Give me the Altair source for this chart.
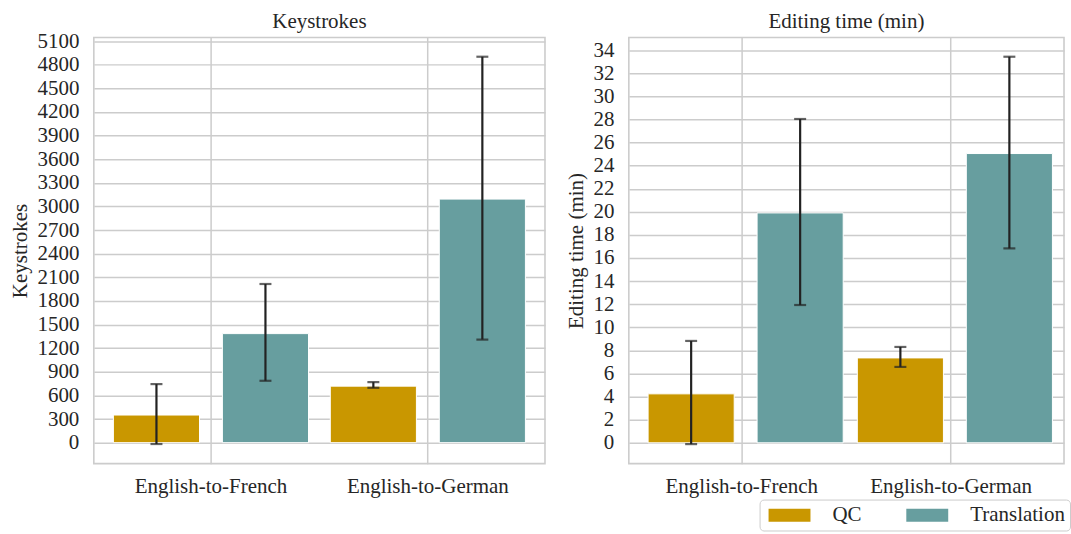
import altair as alt
import pandas as pd

# Language pairs and task types
languages = ["English-to-French", "English-to-German"]
tasks = ["QC", "Translation"]
task_colors = ["#C99700", "#679E9F"]

# Mean values with lower / upper error-bar bounds, ordered
# (French-QC, French-Translation, German-QC, German-Translation)
row_language = ["English-to-French", "English-to-French", "English-to-German", "English-to-German"]
row_task = ["QC", "Translation", "QC", "Translation"]

keystrokes_mean = [351, 1385, 718, 3093]
keystrokes_lo = [-17, 786, 697, 1309]
keystrokes_hi = [744, 2015, 769, 4901]

time_mean = [4.24, 19.9, 7.35, 25.04]
time_lo = [-0.11, 11.93, 6.57, 16.83]
time_hi = [8.82, 28.03, 8.30, 33.42]

keystroke_ticks = list(range(0, 5101, 300))
time_ticks = list(range(0, 35, 2))

FONT = "Liberation Serif"
TEXT = "#262626"
GRID = "#cccccc"


def panel(mean, lo, hi, label, domain, ticks, width, title_offset):
    df = pd.DataFrame({
        "language": row_language,
        "task": row_task,
        "mean": mean,
        "lo": lo,
        "hi": hi,
    })
    x = alt.X(
        "language:N",
        sort=languages,
        title=None,
        scale=alt.Scale(paddingInner=0, paddingOuter=0.04),
        axis=alt.Axis(labelAngle=0, grid=True, labelPadding=12),
    )
    xo = alt.XOffset("task:N", sort=tasks,
                     scale=alt.Scale(paddingInner=0.21, paddingOuter=0.1))
    yscale = alt.Scale(domain=domain, nice=False, zero=False)
    yaxis = alt.Axis(values=ticks, title=label, format="d", labelOverlap=False,
                     labelPadding=15, titlePadding=6)
    base = alt.Chart(df).encode(x=x, xOffset=xo)

    bars = base.mark_bar(stroke="white", strokeWidth=1).encode(
        y=alt.Y("mean:Q", stack=None, scale=yscale, axis=yaxis),
        color=alt.Color("task:N", sort=tasks,
                        scale=alt.Scale(domain=tasks, range=task_colors),
                        legend=alt.Legend(title=None)),
    )
    whisker = base.mark_rule(color="#222222", strokeWidth=2.2).encode(
        y=alt.Y("lo:Q", scale=yscale, axis=yaxis), y2="hi:Q"
    )
    cap_lo = base.mark_tick(color="#222222", size=12, thickness=2.2,
                            orient="horizontal").encode(
        y=alt.Y("lo:Q", scale=yscale, axis=yaxis))
    cap_hi = base.mark_tick(color="#222222", size=12, thickness=2.2,
                            orient="horizontal").encode(
        y=alt.Y("hi:Q", scale=yscale, axis=yaxis))
    return alt.layer(bars, whisker, cap_lo, cap_hi).properties(
        width=width, height=427,
        title=alt.TitleParams(label, fontSize=21, font=FONT, color=TEXT,
                              fontWeight="normal", offset=title_offset),
    )


# the top tick label of the keystroke axis reaches above the plot frame,
# so its title needs a smaller offset to sit level with the other one
left = panel(keystrokes_mean, keystrokes_lo, keystrokes_hi, "Keystrokes",
             [-266, 5146], keystroke_ticks, 452, -2)
right = panel(time_mean, time_lo, time_hi, "Editing time (min)",
              [-1.8, 35.09], time_ticks, 436, 5)

chart = alt.hconcat(left, right, spacing=84, bounds="flush").properties(
    padding={"left": 9, "top": 9, "right": 0, "bottom": 0}
).configure(
    font=FONT,
).configure_view(
    stroke=GRID, strokeWidth=1.6,
).configure_axis(
    labelFont=FONT, labelFontSize=21, labelColor=TEXT,
    titleFont=FONT, titleFontSize=21, titleColor=TEXT, titleFontWeight="normal",
    gridColor=GRID, gridWidth=1.5, domain=False, ticks=False,
).configure_legend(
    orient="none", legendX=667, legendY=463, direction="horizontal",
    strokeColor=GRID, fillColor="white", cornerRadius=4, padding=5,
    symbolType="M-1,-1H5.46V1H-1Z", symbolSize=169, symbolStrokeWidth=0,
    symbolOpacity=1,
    labelFont=FONT, labelFontSize=21, labelColor=TEXT, labelOffset=47,
    columnPadding=40,
)

chart.save("out.html", embed_options={"renderer": "svg", "actions": False})
